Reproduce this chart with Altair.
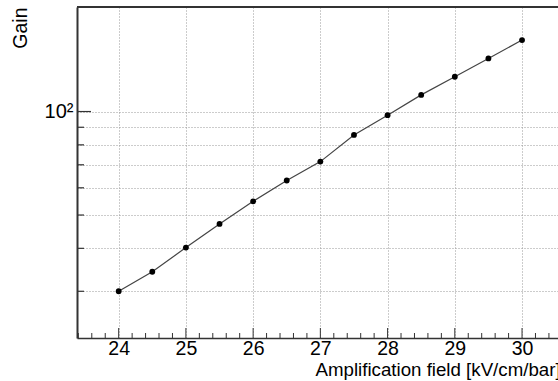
import altair as alt
import pandas as pd

field = [24.0, 24.5, 25.0, 25.5, 26.0, 26.5, 27.0, 27.5, 28.0, 28.5, 29.0, 29.5, 30.0]
gain = [30.0, 34.2, 40.2, 47.1, 54.8, 63.0, 71.5, 85.5, 97.6, 111.8, 126.2, 142.7, 161.4]

x_major = [24, 25, 26, 27, 28, 29, 30]
x_minor = [23.4, 23.6, 23.8, 24.2, 24.4, 24.6, 24.8, 25.2, 25.4, 25.6, 25.8,
           26.2, 26.4, 26.6, 26.8, 27.2, 27.4, 27.6, 27.8, 28.2, 28.4, 28.6, 28.8,
           29.2, 29.4, 29.6, 29.8, 30.2, 30.4]
y_minor = [30, 40, 50, 60, 70, 80, 90]
y_major = [100]
y_grid = [30, 40, 50, 60, 70, 80, 90, 100]

W, H = 481, 331
FONT = "Liberation Sans"
FRAME = "#333333"
FS = 19.5

df = pd.DataFrame({"field": field, "gain": gain})

xs = alt.Scale(domain=[23.38, 30.535], nice=False, zero=False)
ys = alt.Scale(type="log", domain=[21.94, 201.4], nice=False)

xaxis = alt.Axis(values=x_major, format="d", grid=True, gridDash=[1, 2], gridColor="#999999", gridWidth=1,
                 ticks=False, labelPadding=1, labelFontSize=FS, labelFont=FONT, labelColor="black",
                 domainColor=FRAME, domainWidth=1.5,
                 title="Amplification field [kV/cm/bar]", titleFont=FONT, titleFontSize=18.7,
                 titleFontWeight="normal", titleColor="black", titleX=238, titleY=37,
                 titleAlign="left", titleBaseline="alphabetic", titleAnchor="start")
yaxis = alt.Axis(values=y_grid, grid=True, gridDash=[1, 2], gridColor="#999999", gridWidth=1,
                 ticks=False, labelExpr="datum.value == 100 ? '10²' : ''",
                 labelPadding=4, labelFontSize=20, labelFont=FONT, labelColor="black",
                 domainColor=FRAME, domainWidth=2,
                 title="Gain", titleFont=FONT, titleFontSize=FS, titleFontWeight="normal",
                 titleColor="black", titleAngle=270, titleX=-57, titleY=0,
                 titleAlign="right", titleBaseline="middle", titleAnchor="end")

base = alt.Chart(df)
line = base.mark_line(color="#444444", strokeWidth=1.2).encode(
    x=alt.X("field:Q", scale=xs, axis=xaxis),
    y=alt.Y("gain:Q", scale=ys, axis=yaxis),
)
pts = base.mark_circle(color="black", opacity=1, size=34).encode(
    x=alt.X("field:Q", scale=xs),
    y=alt.Y("gain:Q", scale=ys),
)

xmaj = alt.Chart(pd.DataFrame({"t": x_major})).mark_rule(color=FRAME, strokeWidth=1).encode(
    x=alt.X("t:Q", scale=xs), y=alt.value(H), y2=alt.value(H - 10))
xmin = alt.Chart(pd.DataFrame({"t": x_minor})).mark_rule(color=FRAME, strokeWidth=1).encode(
    x=alt.X("t:Q", scale=xs), y=alt.value(H), y2=alt.value(H - 5))
ymaj = alt.Chart(pd.DataFrame({"t": y_major})).mark_rule(color=FRAME, strokeWidth=1.2).encode(
    y=alt.Y("t:Q", scale=ys), x=alt.value(0), x2=alt.value(14))
ymin = alt.Chart(pd.DataFrame({"t": y_minor})).mark_rule(color=FRAME, strokeWidth=1.2).encode(
    y=alt.Y("t:Q", scale=ys), x=alt.value(0), x2=alt.value(7))
top = alt.Chart(alt.Data(values=[{"a": 1}])).mark_rule(color=FRAME, strokeWidth=2).encode(
    y=alt.value(0), x=alt.value(0), x2=alt.value(W))

chart = alt.layer(xmin, xmaj, ymin, ymaj, top, line, pts).properties(
    width=W, height=H,
    autosize=alt.AutoSizeParams(type="none"),
    padding={"left": 77, "top": 7, "right": 0, "bottom": 43},
    background="white",
).configure_view(stroke=None)

chart.save("out.html", embed_options={"renderer": "svg", "actions": False})
